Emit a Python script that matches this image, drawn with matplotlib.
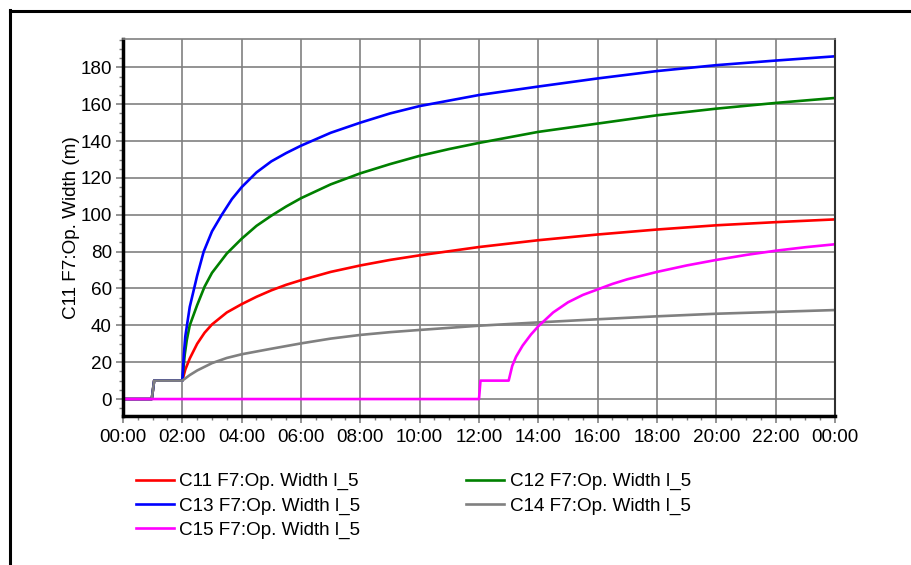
import matplotlib
matplotlib.use('Agg')
import matplotlib.pyplot as plt
from matplotlib.lines import Line2D
from matplotlib.ticker import MultipleLocator

plt.rcParams['font.family'] = ['Liberation Sans', 'DejaVu Sans']

# time in hours from 00:00
c11_t = [0, 0.97, 1.05, 2.0, 2.1, 2.25, 2.5, 2.75, 3.0, 3.5, 4, 4.5, 5, 5.5, 6, 7, 8, 9, 10, 12, 14, 16, 18, 20, 22, 24]
c11_v = [0, 0, 10, 10, 16, 22, 30, 36, 40.5, 47, 51.5, 55.5, 59, 62, 64.5, 69, 72.5, 75.5, 78, 82.5, 86.2, 89.3, 92, 94.3, 96, 97.5]

c12_t = [0, 0.97, 1.05, 2.0, 2.08, 2.15, 2.25, 2.5, 2.75, 3.0, 3.5, 4, 4.5, 5, 5.5, 6, 7, 8, 9, 10, 11, 12, 14, 16, 18, 20, 22, 24]
c12_v = [0, 0, 10, 10, 24, 32, 40, 51, 61, 68.5, 79, 87, 94, 99.5, 104.5, 109, 116.5, 122.5, 127.5, 132, 135.7, 139, 145, 149.5, 154, 157.6, 160.7, 163.4]

c13_t = [0, 0.97, 1.05, 2.0, 2.05, 2.1, 2.25, 2.5, 2.72, 3.0, 3.33, 3.67, 4, 4.5, 5, 5.5, 6, 7, 8, 9, 10, 11, 12, 14, 16, 18, 20, 22, 24]
c13_v = [0, 0, 10, 10, 24, 34, 50, 67, 80, 91, 100, 108.5, 115, 123, 129, 133.5, 137.5, 144.5, 150, 155, 159, 162, 165, 169.6, 174, 178, 181.2, 183.7, 186]

c14_t = [0, 0.97, 1.05, 2.0, 2.25, 2.5, 3.0, 3.5, 4, 5, 6, 7, 8, 9, 10, 12, 14, 16, 18, 20, 22, 24]
c14_v = [0, 0, 10, 10, 13, 15.5, 19.5, 22.3, 24.3, 27.3, 30.2, 32.8, 34.8, 36.3, 37.5, 39.8, 41.6, 43.3, 44.9, 46.3, 47.3, 48.3]

c15_t = [0, 12.0, 12.05, 13.0, 13.12, 13.25, 13.47, 13.75, 14, 14.5, 15, 15.5, 16, 16.5, 17, 17.5, 18, 19, 20, 21, 22, 23, 24]
c15_v = [0, 0, 10, 10, 18, 23, 29, 35, 39.5, 47, 52.5, 56.5, 59.5, 62.5, 65, 67, 69, 72.5, 75.5, 78.2, 80.5, 82.4, 84]

series = [
    ('C11 F7:Op. Width l_5', c11_t, c11_v, '#ff0000'),
    ('C12 F7:Op. Width l_5', c12_t, c12_v, '#008000'),
    ('C13 F7:Op. Width l_5', c13_t, c13_v, '#0000ff'),
    ('C14 F7:Op. Width l_5', c14_t, c14_v, '#808080'),
    ('C15 F7:Op. Width l_5', c15_t, c15_v, '#ff00ff'),
]

x_ticks = list(range(0, 25, 2))
x_labels = ['00:00', '02:00', '04:00', '06:00', '08:00', '10:00', '12:00',
            '14:00', '16:00', '18:00', '20:00', '22:00', '00:00']
y_ticks = list(range(0, 181, 20))

fs = 13.6

fig = plt.figure(figsize=(9.12, 5.65), dpi=100)
ax = fig.add_axes([123 / 912, 1 - 416 / 565, (835 - 123) / 912, (416 - 39) / 565])

lines = {}
for name, t, v, col in series:
    lines[name], = ax.plot(t, v, color=col, lw=1.9, label=name)

ax.set_xlim(0, 24)
ax.set_ylim(-9.2, 195.4)
ax.set_xticks(x_ticks)
ax.set_xticklabels(x_labels)
ax.set_yticks(y_ticks)
ax.xaxis.set_minor_locator(MultipleLocator(0.5))
ax.yaxis.set_minor_locator(MultipleLocator(5))
ax.grid(True, which='major', color='#808080', lw=1.2)
ax.set_axisbelow(True)

ax.tick_params(axis='both', which='major', labelsize=fs, color='#808080', width=1.2, length=5)
ax.tick_params(axis='both', which='minor', color='#808080', width=1, length=3)
ax.tick_params(axis='y', which='major', pad=3)
ax.tick_params(axis='x', which='major', pad=4)

for side in ['left', 'bottom']:
    ax.spines[side].set_color('black')
    ax.spines[side].set_linewidth(2.5)
ax.spines['right'].set_color('#303030')
ax.spines['right'].set_linewidth(1.5)
ax.spines['top'].set_color('#808080')
ax.spines['top'].set_linewidth(1.2)

ax.set_ylabel('C11 F7:Op. Width (m)', fontsize=fs, labelpad=0)

order = ['C11 F7:Op. Width l_5', 'C13 F7:Op. Width l_5', 'C15 F7:Op. Width l_5',
         'C12 F7:Op. Width l_5', 'C14 F7:Op. Width l_5']
fig.legend([lines[n] for n in order], order, ncol=2, loc='upper left',
           bbox_to_anchor=(136 / 912, 1 - 473 / 565), frameon=False,
           fontsize=fs, handlelength=2.0, handletextpad=0.3,
           columnspacing=5.6, labelspacing=0.36, borderpad=0, borderaxespad=0)

# outer frame (runs off the right and bottom edges)
fig.add_artist(Line2D([10 / 912, 1.0], [1 - 10.5 / 565] * 2, transform=fig.transFigure,
                      color='black', lw=2.2))
fig.add_artist(Line2D([10.5 / 912] * 2, [0.0, 1 - 10 / 565], transform=fig.transFigure,
                      color='black', lw=2.2))

plt.savefig('out.png', dpi=100)
